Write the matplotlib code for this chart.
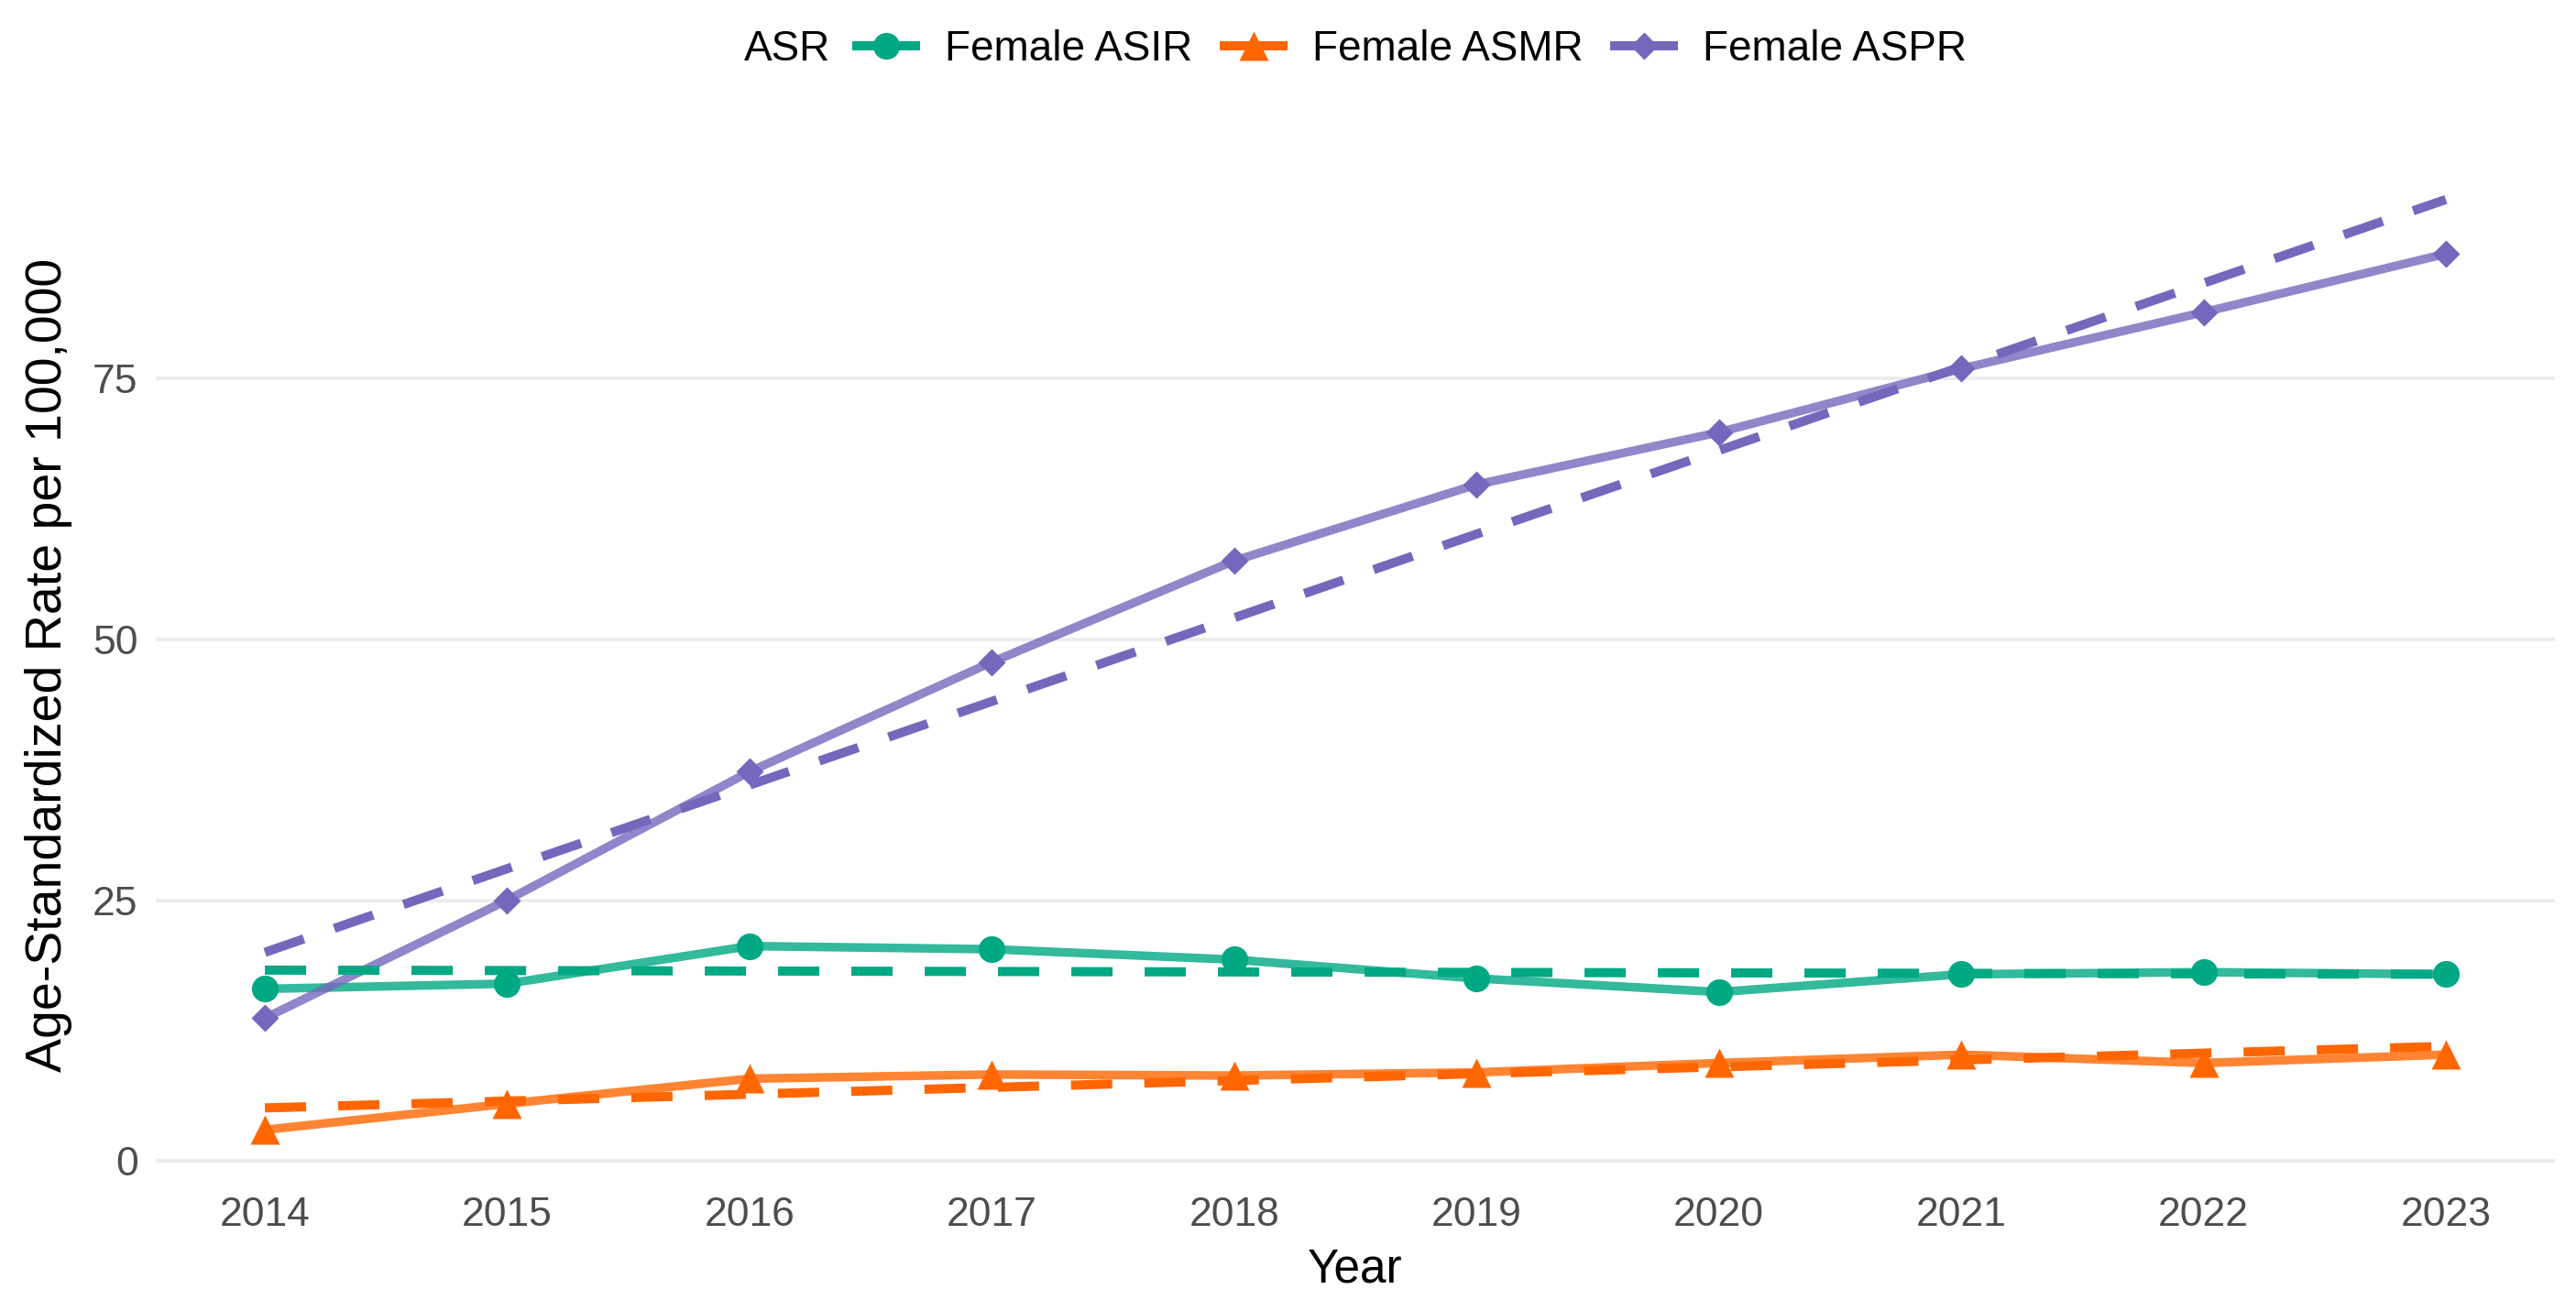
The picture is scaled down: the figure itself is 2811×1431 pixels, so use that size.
import matplotlib
matplotlib.use('Agg')
import matplotlib.pyplot as plt
from matplotlib.lines import Line2D

plt.rcParams['font.family'] = ['Liberation Sans', 'DejaVu Sans']

# data
years = [2014, 2015, 2016, 2017, 2018, 2019, 2020, 2021, 2022, 2023]
asir = [16.5, 17.0, 20.6, 20.3, 19.3, 17.5, 16.2, 17.9, 18.1, 17.9]
asmr = [3.0, 5.5, 7.9, 8.3, 8.2, 8.5, 9.4, 10.2, 9.4, 10.2]
aspr = [13.7, 25.0, 37.3, 47.8, 57.5, 64.8, 69.8, 75.9, 81.3, 86.9]

# dashed trend lines (start / end)
trend_years = [2014, 2023]
asir_trend = [18.3, 17.9]
asmr_trend = [5.1, 11.0]
aspr_trend = [20.0, 92.1]

labels = ['Female ASIR', 'Female ASMR', 'Female ASPR']
colors = ['#00A884', '#FF6600', '#7468BD']
markers = ['o', '^', 'D']
msizes = [10.5, 11.5, 7.5]


def main():
    fig = plt.figure(figsize=(14.055, 7.155), dpi=200)
    ax = fig.add_axes([0.0605, 0.1027, 0.9313, 0.7806])

    series = [asir, asmr, aspr]
    trends = [asir_trend, asmr_trend, aspr_trend]
    for vals, tr, c, m, ms in zip(series, trends, colors, markers, msizes):
        ax.plot(years, vals, color=c, lw=3.4, alpha=0.8, zorder=3,
                solid_capstyle='butt')
        ax.plot(years, vals, ls='none', marker=m, ms=ms, color=c,
                mec='none', zorder=4)
        ax.plot(trend_years, tr, color=c, lw=3.6, dashes=(4.5, 3.5),
                dash_capstyle='butt', zorder=5)

    ax.set_xticks(years)
    ax.set_yticks([0, 25, 50, 75])
    ax.tick_params(axis='both', length=0, labelsize=16, labelcolor='#4D4D4D')
    ax.tick_params(axis='x', pad=8)
    ax.tick_params(axis='y', pad=7)
    ax.grid(axis='y', color='#EBEBEB', lw=1.3)
    ax.set_axisbelow(True)
    for s in ax.spines.values():
        s.set_visible(False)

    ax.set_xlabel('Year', fontsize=18.5, labelpad=5)
    ax.set_ylabel('Age-Standardized Rate per 100,000', fontsize=20, labelpad=8)

    # legend on top, title inline
    handles = [Line2D([], [], color=c, lw=3.6, marker=m, ms=ms, mec='none')
               for c, m, ms in zip(colors, markers, msizes)]
    fig.text(0.289, 0.962, 'ASR', fontsize=16.5, va='center', ha='left')
    fig.legend(handles, labels, loc='center', bbox_to_anchor=(0.548, 0.962),
               ncol=3, frameon=False, fontsize=16.5, handlelength=1.4,
               handletextpad=0.7, columnspacing=0.75)

    fig.savefig('out.png', dpi=200, facecolor='white')


if __name__ == '__main__':
    main()
